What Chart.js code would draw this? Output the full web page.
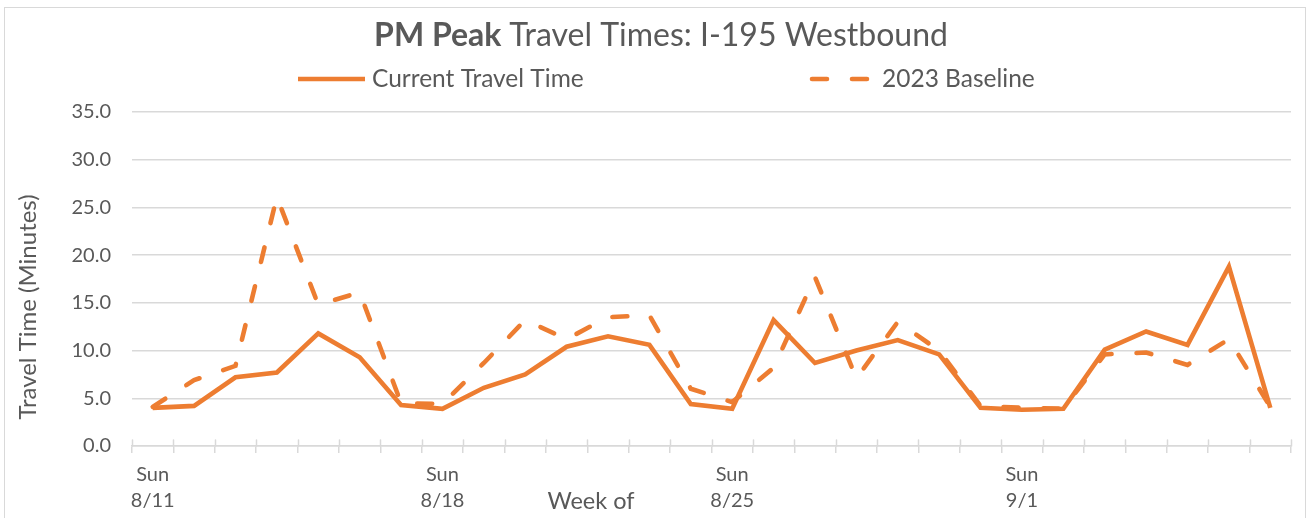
<!DOCTYPE html>
<html>
<head>
<meta charset="utf-8">
<script src="https://cdn.jsdelivr.net/npm/chart.js@4/dist/chart.umd.min.js"></script>
<style>
  html, body { margin: 0; padding: 0; background: #ffffff; }
  #wrap { position: relative; width: 1312px; height: 518px; }
  #frame { position: absolute; left: 4px; top: 7px; width: 1302px; height: 520px; border: 1.5px solid #d9d9d9; box-sizing: border-box; }
  canvas { position: absolute; left: 0; top: 0; }
</style>
</head>
<body>
<div id="wrap">
  <div id="frame"></div>
  <canvas id="c" width="1312" height="518"></canvas>
</div>
<script>
// ---- Data ----
const categories = ['8/11','8/12','8/13','8/14','8/15','8/16','8/17',
                    '8/18','8/19','8/20','8/21','8/22','8/23','8/24',
                    '8/25','8/26','8/27','8/28','8/29','8/30','8/31',
                    '9/1','9/2','9/3','9/4','9/5','9/6','9/7'];
const weekdayLabel = 'Sun';
const currentTravelTime = [4.0, 4.2, 7.2, 7.7, 11.8, 9.3, 4.3,
                           3.9, 6.1, 7.5, 10.4, 11.5, 10.6, 4.4,
                           3.9, 13.2, 8.7, 10.0, 11.1, 9.6, 4.0,
                           3.8, 3.9, 10.1, 12.0, 10.6, 18.8, 4.0];
const baseline2023 = [4.1, 6.9, 8.4, 26.1, 14.8, 16.1, 4.5,
                      4.4, 8.7, 13.2, 11.2, 13.5, 13.7, 6.0,
                      4.6, 8.2, 17.7, 7.1, 13.0, 10.0, 4.2,
                      4.0, 3.9, 9.6, 9.8, 8.5, 11.2, 4.1];
const yTicks = [0, 5, 10, 15, 20, 25, 30, 35];
const titleBold = 'PM Peak';
const titleRest = 'Travel Times: I-195 Westbound';
const xAxisTitle = 'Week of';
const yAxisTitle = 'Travel Time (Minutes)';

const ORANGE = '#ED7D31';
const TEXT = '#595959';
const GRID = '#d9d9d9';
const FONT = 'Lato, "Open Sans", sans-serif';

const decorPlugin = {
  id: 'decor',
  afterDraw(chart) {
    const ctx = chart.ctx;
    const ca = chart.chartArea;
    ctx.save();
    // Title (mixed bold / normal)
    ctx.fillStyle = TEXT;
    ctx.textBaseline = 'middle';
    ctx.font = 'bold 32px ' + FONT;
    const wB = ctx.measureText(titleBold + ' ').width;
    ctx.font = '32px ' + FONT;
    const wR = ctx.measureText(titleRest).width;
    let tx = 661 - (wB + wR) / 2;
    ctx.textAlign = 'left';
    ctx.font = 'bold 32px ' + FONT;
    ctx.fillText(titleBold + ' ', tx, 36);
    ctx.font = '32px ' + FONT;
    ctx.fillText(titleRest, tx + wB, 36);

    // Legend
    const legendStarts = [298, 805];
    const sampleW = [67, 70];
    const ly = 79;
    ctx.font = '24.5px ' + FONT;
    chart.data.datasets.forEach((ds, i) => {
      const x0 = legendStarts[i];
      ctx.beginPath();
      ctx.strokeStyle = ds.borderColor;
      ctx.lineWidth = ds.borderWidth;
      ctx.lineCap = ds.borderCapStyle || 'butt';
      if (ds.borderDash) {
        ctx.setLineDash(ds.borderDash);
        ctx.moveTo(x0 + 7, ly);
        ctx.lineTo(x0 + sampleW[i] - 2, ly);
      } else {
        ctx.setLineDash([]);
        ctx.moveTo(x0, ly);
        ctx.lineTo(x0 + sampleW[i], ly);
      }
      ctx.stroke();
      ctx.setLineDash([]);
      ctx.fillStyle = TEXT;
      ctx.fillText(ds.label, x0 + sampleW[i] + 7, ly);
    });

    // x-axis title
    ctx.font = '23.5px ' + FONT;
    ctx.textAlign = 'center';
    ctx.fillText(xAxisTitle, 591, 501);

    // y-axis title (rotated)
    ctx.save();
    ctx.translate(28, 307);
    ctx.rotate(-Math.PI / 2);
    ctx.font = '24px ' + FONT;
    ctx.textAlign = 'center';
    ctx.textBaseline = 'middle';
    ctx.fillText(yAxisTitle, 0, 0);
    ctx.restore();

    // upward half of the x-axis cross ticks
    ctx.strokeStyle = GRID;
    ctx.lineWidth = 1.5;
    const n = categories.length;
    for (let i = 0; i <= n; i++) {
      const px = Math.round(ca.left + (ca.right - ca.left) * i / n) + 0.5;
      ctx.beginPath();
      ctx.moveTo(px, ca.bottom - 6);
      ctx.lineTo(px, ca.bottom);
      ctx.stroke();
    }
    ctx.restore();
  }
};

new Chart(document.getElementById('c'), {
  type: 'line',
  data: {
    labels: categories,
    datasets: [
      {
        label: 'Current Travel Time',
        data: currentTravelTime,
        borderColor: ORANGE,
        backgroundColor: ORANGE,
        borderWidth: 4.6,
        pointRadius: 0,
        tension: 0,
        borderJoinStyle: 'miter',
        order: 1
      },
      {
        label: '2023 Baseline',
        data: baseline2023,
        borderColor: ORANGE,
        backgroundColor: ORANGE,
        borderWidth: 4.6,
        borderDash: [15, 25],
        borderCapStyle: 'round',
        pointRadius: 0,
        tension: 0,
        order: 0
      }
    ]
  },
  options: {
    responsive: false,
    devicePixelRatio: 1,
    animation: false,
    events: [],
    layout: { padding: { top: 112, left: 0, right: 21, bottom: 0 } },
    plugins: {
      legend: { display: false },
      title: { display: false },
      tooltip: { enabled: false }
    },
    scales: {
      x: {
        offset: true,
        grid: {
          offset: true,
          drawOnChartArea: false,
          drawTicks: true,
          tickLength: 7,
          color: GRID,
          lineWidth: 1.5
        },
        border: { display: true, color: GRID, width: 1.5 },
        ticks: {
          autoSkip: false,
          maxRotation: 0,
          minRotation: 0,
          padding: 9,
          color: TEXT,
          font: { family: FONT, size: 20, lineHeight: 1.3 },
          callback: (v, i) => (i % 7 === 0 ? [weekdayLabel, categories[i]] : '')
        },
        afterFit: (s) => { s.height = 72; }
      },
      y: {
        min: 0,
        max: 35,
        afterBuildTicks: (s) => { s.ticks = yTicks.map(v => ({ value: v })); },
        grid: { color: GRID, lineWidth: 1.5, drawTicks: false },
        border: { display: false },
        ticks: {
          padding: 21,
          color: TEXT,
          font: { family: FONT, size: 20 },
          callback: (v) => Number(v).toFixed(1)
        },
        afterFit: (s) => { s.width = 132; }
      }
    }
  },
  plugins: [decorPlugin]
});
</script>
</body>
</html>
